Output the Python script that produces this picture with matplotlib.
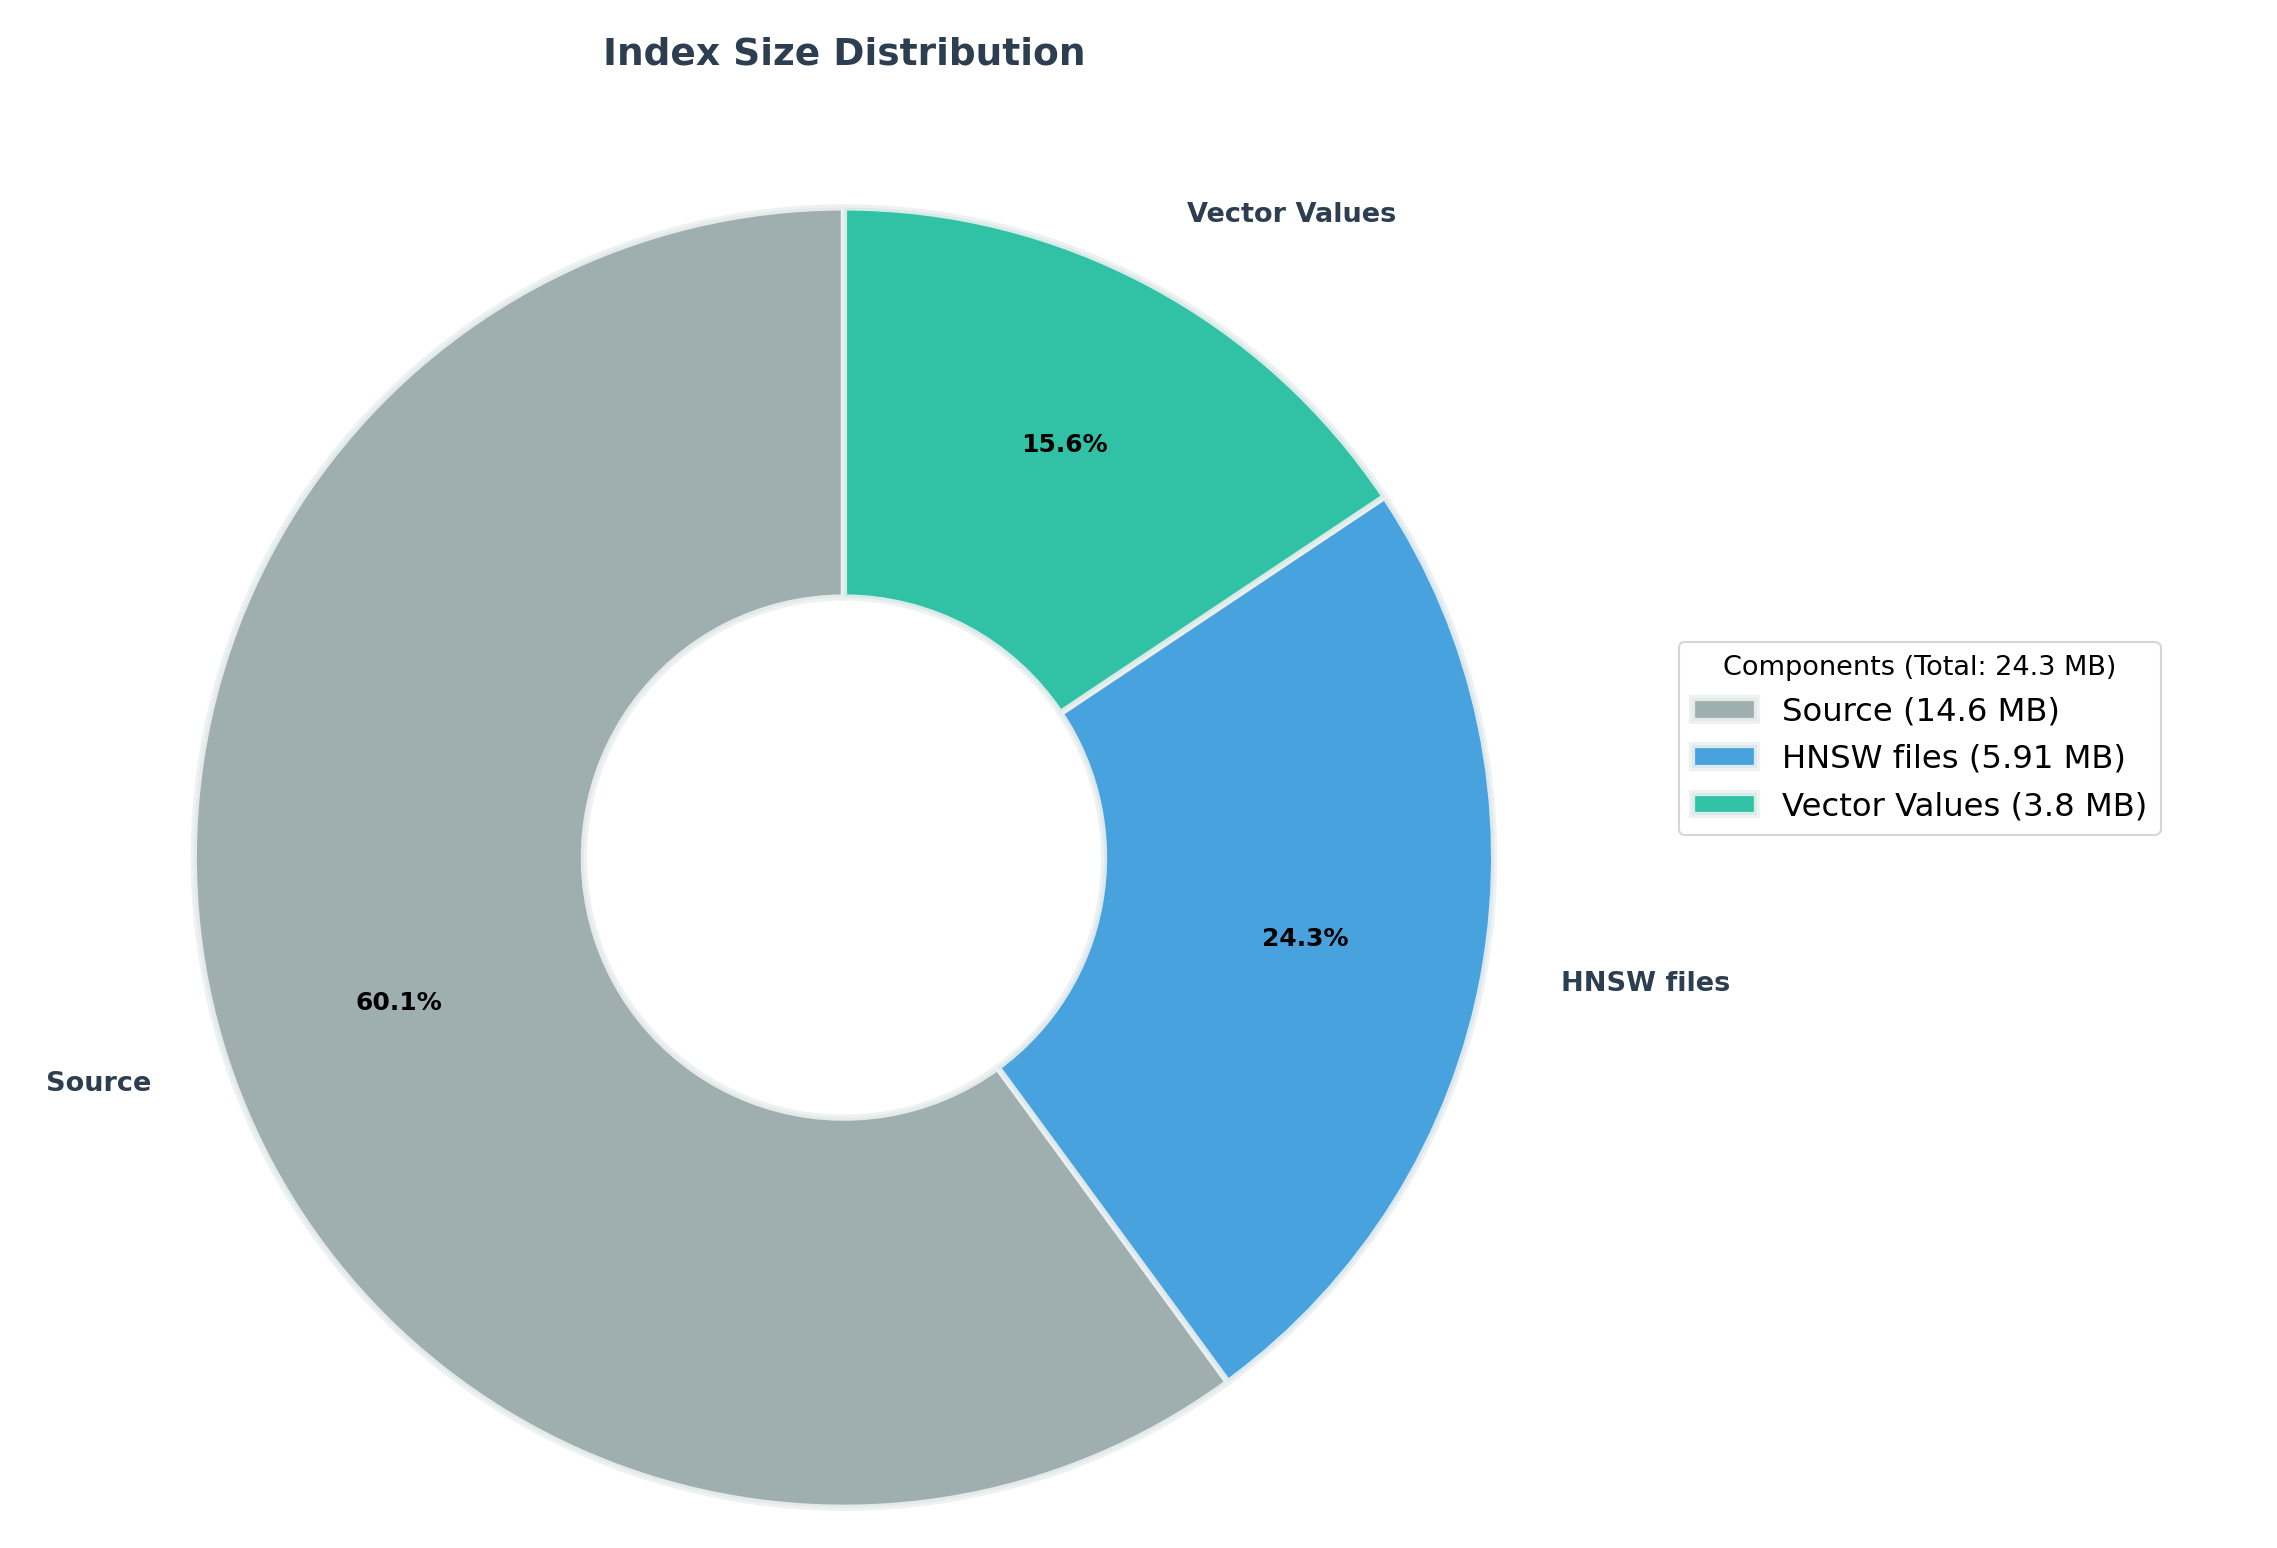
import matplotlib
matplotlib.use("Agg")
import matplotlib.pyplot as plt

labels = ["Source", "HNSW files", "Vector Values"]
sizes_mb = [14.6, 5.91, 3.8]
size_text = ["14.6 MB", "5.91 MB", "3.8 MB"]
colors = ["#95a5a6", "#3498db", "#1abc9c"]

fig = plt.figure(figsize=(15.186, 10.32), dpi=150)
ax = fig.add_axes([0.0105, -0.079, 0.72, 1.05])
wedges, texts, autotexts = ax.pie(
    sizes_mb, labels=labels, colors=colors, startangle=90, counterclock=True,
    autopct="%1.1f%%", pctdistance=0.72, labeldistance=1.12,
    wedgeprops=dict(width=0.6, edgecolor="#ecf0f1", linewidth=3, alpha=0.9),
    textprops=dict(fontsize=13, fontweight="bold", color="#2c3e50"))
for t in autotexts:
    t.set_color("black")
    t.set_fontsize(12)
ax.set_aspect("equal")
fig.text(0.3705, 0.965, "Index Size Distribution", fontsize=18, fontweight="bold",
         color="#2c3e50", ha="center", va="center")
fig.legend(wedges, [f"{l} ({s})" for l, s in zip(labels, size_text)],
           title="Components (Total: 24.3 MB)", loc="center left",
           bbox_to_anchor=(0.73, 0.523), fontsize=15.5, title_fontsize=13)
fig.savefig("out.png", dpi=150, facecolor="white")
